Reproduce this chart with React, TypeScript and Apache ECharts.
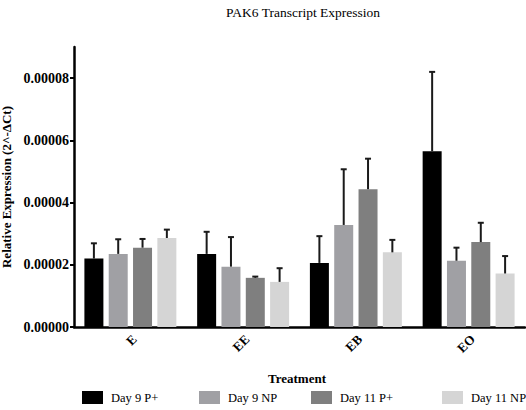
import React, { useEffect, useRef } from "react";
import * as echarts from "echarts";

const categories = ["E", "EE", "EB", "EO"];
const seriesNames = ["Day 9 P+", "Day 9 NP", "Day 11 P+", "Day 11 NP"];
const day9P = [0.0000220, 0.0000235, 0.0000206, 0.0000565];
const day9NP = [0.0000235, 0.0000194, 0.0000328, 0.0000213];
const day11P = [0.0000255, 0.0000158, 0.0000443, 0.0000273];
const day11NP = [0.0000286, 0.0000145, 0.0000240, 0.0000172];
const day9PErr = [0.0000049, 0.0000071, 0.0000086, 0.0000255];
const day9NPErr = [0.0000047, 0.0000095, 0.0000179, 0.0000042];
const day11PErr = [0.0000028, 0.0000004, 0.0000098, 0.0000062];
const day11NPErr = [0.0000027, 0.0000044, 0.0000040, 0.0000056];

const colors = ["#000000", "#a0a0a4", "#7f7f7f", "#d5d5d5"];
const FONT = "Liberation Serif";

export default function App() {
  const ref = useRef<HTMLDivElement>(null);
  useEffect(() => {
    document.body.style.margin = "0";
    if (!ref.current) return;
    const chart = echarts.init(ref.current, undefined, { renderer: "svg" });
    const means = [day9P, day9NP, day11P, day11NP];
    const errs = [day9PErr, day9NPErr, day11PErr, day11NPErr];
    const barWidth = 19;
    const gapPx = barWidth * 0.28;

    const barSeries = means.map((m, i) => ({
      name: seriesNames[i],
      type: "bar",
      data: m,
      barWidth,
      barGap: "28%",
      itemStyle: { color: colors[i] },
      z: 2,
    }));

    const errSeries = means.map((m, i) => ({
      name: seriesNames[i] + " err",
      type: "custom",
      data: m.map((v, k) => [k, v, v + errs[i][k]]),
      encode: { x: 0, y: 1 },
      z: 3,
      renderItem: (params: any, api: any) => {
        const cat = api.value(0);
        const v = api.value(1);
        const t = api.value(2);
        const b = api.coord([cat, v]);
        const tp = api.coord([cat, t]);
        const x = b[0] + (i - 1.5) * (barWidth + gapPx);
        return {
          type: "group",
          children: [
            { type: "line", shape: { x1: x, y1: b[1], x2: x, y2: tp[1] }, style: { stroke: "#1a1a1a", lineWidth: 2 } },
            { type: "line", shape: { x1: x - 3, y1: tp[1], x2: x + 3, y2: tp[1] }, style: { stroke: "#1a1a1a", lineWidth: 2 } },
          ],
        };
      },
    }));

    const labelSeries = {
      name: "category labels",
      type: "custom",
      clip: false,
      silent: true,
      data: categories.map((c, k) => [k, 0]),
      encode: { x: 0, y: 1 },
      z: 4,
      renderItem: (params: any, api: any) => {
        const p = api.coord([api.value(0), 0]);
        return {
          type: "text",
          x: p[0] + 4,
          y: p[1] + 10,
          rotation: Math.PI / 4,
          style: {
            text: categories[params.dataIndex],
            fontFamily: FONT,
            fontSize: 13,
            fontWeight: "bold",
            fill: "#000",
            align: "right",
            verticalAlign: "middle",
          },
        };
      },
    };

    const legendLefts = [77, 194, 306, 437];
    const legends = seriesNames.map((n, i) => ({
      data: [n],
      left: legendLefts[i],
      top: 386,
      itemWidth: 21,
      itemHeight: 13,
      icon: "rect",
      textStyle: { fontFamily: FONT, fontSize: 12.5, color: "#000", padding: [0, 0, 0, 3] },
    }));

    chart.setOption({
      animation: false,
      title: {
        text: "PAK6 Transcript Expression",
        left: 298,
        textAlign: "center",
        top: 0,
        textStyle: { fontFamily: FONT, fontSize: 13.5, fontWeight: "normal", color: "#000" },
      },
      legend: legends,
      graphic: [
        {
          type: "text",
          left: 268,
          top: 372,
          style: { text: "Treatment", fontFamily: FONT, fontSize: 13, fontWeight: "bold", fill: "#000" },
        },
      ],
      grid: { left: 74, right: 1, top: 47, bottom: 83, outerBoundsMode: "none" },
      xAxis: {
        type: "category",
        data: categories,
        axisLine: { lineStyle: { color: "#000", width: 2.5 } },
        axisTick: { alignWithLabel: true, length: 4, lineStyle: { color: "#000", width: 2 } },
        axisLabel: { show: false },
      },
      yAxis: {
        type: "value",
        min: 0,
        max: 0.00009,
        interval: 0.00002,
        name: "Relative Expression (2^-ΔCt)",
        nameLocation: "middle",
        nameGap: 60,
        nameRotate: 90,
        nameTextStyle: { fontFamily: FONT, fontSize: 13, fontWeight: "bold", color: "#000" },
        axisLine: { show: true, lineStyle: { color: "#000", width: 2.5 } },
        axisTick: { show: true, length: 4, lineStyle: { color: "#000", width: 2 } },
        axisLabel: {
          showMaxLabel: false,
          fontFamily: FONT,
          fontSize: 14,
          fontWeight: "bold",
          color: "#000",
          margin: 5,
          formatter: (v: number) => (v > 0.000085 ? "" : v.toFixed(5)),
        },
        splitLine: { show: false },
      },
      series: [...barSeries, ...errSeries, labelSeries],
    });
    return () => chart.dispose();
  }, []);
  return <div ref={ref} style={{ width: 526, height: 410 }} />;
}
